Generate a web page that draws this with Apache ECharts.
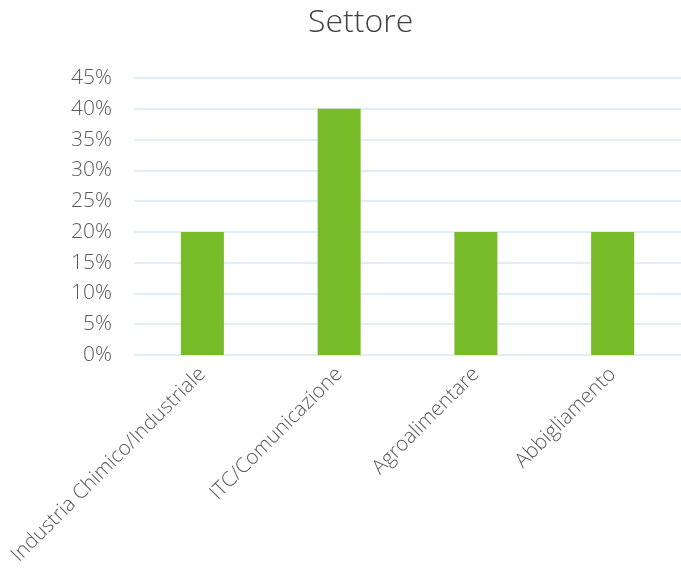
<!DOCTYPE html>
<html><head><meta charset="utf-8">
<script src="https://cdn.jsdelivr.net/npm/echarts@6/dist/echarts.min.js"></script>
<style>html,body{margin:0;padding:0;background:#fff}#c{width:681px;height:570px}</style>
</head><body><div id="c"></div>
<script>
const categories = ["Industria Chimico/Industriale", "ITC/Comunicazione", "Agroalimentare", "Abbigliamento"];
const values = [20, 40, 20, 20];
const title = "Settore";

const chart = echarts.init(document.getElementById('c'), null, {renderer: 'canvas'});
const font = '"Open Sans", Lato, sans-serif';
chart.setOption({
  animation: false,
  title: {text: title, left: 303, top: 2, textStyle: {fontFamily: font, fontWeight: 300, fontSize: 32, color: '#404040'}},
  grid: {left: 134, right: -3, top: 78, bottom: 215, containLabel: false},
  xAxis: {
    type: 'category', data: categories,
    axisLine: {show: false}, axisTick: {show: false},
    axisLabel: {rotate: 45, interval: 0, margin: 16, fontFamily: font, fontWeight: 300, fontSize: 20.5, color: '#595959'}
  },
  yAxis: {
    type: 'value', min: 0, max: 45, interval: 5,
    axisLine: {show: false}, axisTick: {show: false},
    axisLabel: {formatter: '{value}%', margin: 22, fontFamily: font, fontWeight: 300, fontSize: 21, color: '#595959'},
    splitLine: {lineStyle: {color: '#E2EEF7', width: 2}}
  },
  series: [{type: 'bar', data: values, barWidth: 43, itemStyle: {color: '#77BC28'}}]
});
</script></body></html>
